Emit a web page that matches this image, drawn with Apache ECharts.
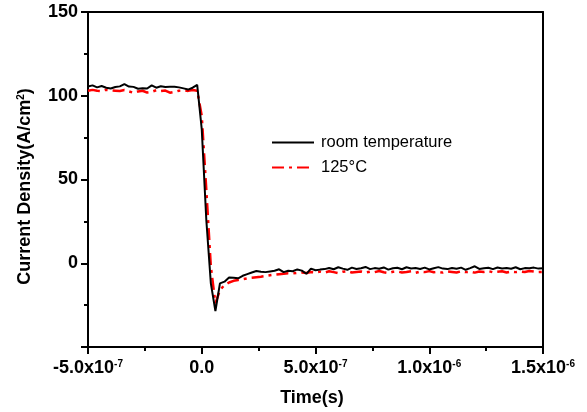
<!DOCTYPE html>
<html>
<head>
<meta charset="utf-8">
<script src="https://cdn.jsdelivr.net/npm/echarts@6/dist/echarts.min.js"></script>
<style>
  html, body { margin: 0; padding: 0; background: #fff; }
  #chart { width: 587px; height: 412px; }
</style>
</head>
<body>
<div id="chart"></div>
<script>
// Sample times in nanoseconds
const timeNs = [
  -500, -480, -460, -440, -420, -400, -380, -360, -340, -320,
  -300, -280, -260, -240, -220, -200, -180, -160, -140, -120,
  -100, -80, -60, -40, -20, 0, 20, 40, 60, 80,
  100, 120, 140, 160, 180, 200, 220, 240, 260, 280,
  300, 320, 340, 360, 380, 400, 420, 440, 460, 480,
  500, 520, 540, 560, 580, 600, 620, 640, 660, 680,
  700, 720, 740, 760, 780, 800, 820, 840, 860, 880,
  900, 920, 940, 960, 980, 1000, 1020, 1040, 1060, 1080,
  1100, 1120, 1140, 1160, 1180, 1200, 1220, 1240, 1260, 1280,
  1300, 1320, 1340, 1360, 1380, 1400, 1420, 1440, 1460, 1480,
  1500
];

// Current density (A/cm^2) at room temperature
const roomTemp = [
  105.5, 106.2, 105.0, 105.8, 104.8, 104.3, 105.2, 105.6, 107.0, 105.5,
  105.3, 104.2, 104.5, 104.3, 106.2, 104.8, 105.7, 105.2, 105.3, 105.4,
  105.0, 104.4, 103.7, 104.8, 106.5, 80.0, 26.0, -12.0, -28.5, -12.0,
  -11.0, -8.5, -8.7, -9.0, -7.5, -6.5, -5.5, -4.6, -5.1, -5.3,
  -4.9, -4.5, -3.6, -5.3, -4.5, -4.8, -3.7, -4.4, -6.3, -3.2,
  -4.2, -3.8, -3.5, -2.8, -3.6, -2.4, -3.2, -3.9, -2.6, -3.4,
  -3.0, -2.2, -3.5, -2.9, -3.3, -2.5, -3.8, -3.0, -2.7, -3.6,
  -2.4, -3.1, -2.9, -3.4, -2.6, -3.7, -3.0, -2.3, -3.2, -3.5,
  -2.8, -3.3, -2.6, -3.9, -2.9, -1.8, -3.4, -3.0, -2.7, -3.5,
  -2.5, -3.1, -2.8, -3.3, -2.4, -3.6, -2.9, -3.0, -2.6, -3.2,
  -3.0
];

// Current density (A/cm^2) at 125 °C
const hot125 = [
  103.0, 103.5, 103.0, 102.8, 103.6, 103.2, 103.0, 102.8, 103.4, 102.6,
  101.8, 102.6, 103.0, 101.9, 102.4, 103.3, 102.8, 103.1, 101.8, 102.3,
  103.0, 103.2, 102.9, 103.4, 103.0, 88.0, 44.0, -2.0, -24.0, -16.0,
  -13.0, -11.5, -10.5, -10.0, -9.5, -9.0, -8.7, -8.3, -8.0, -7.6,
  -7.2, -6.8, -6.5, -6.2, -6.0, -6.1, -5.7, -5.5, -5.8, -5.2,
  -5.5, -5.0, -5.6, -4.8, -5.3, -5.9, -5.1, -4.7, -5.5, -5.2,
  -4.9, -5.6, -5.0, -5.3, -4.6, -5.4, -5.8, -5.1, -4.9, -5.5,
  -5.2, -4.8, -5.7, -5.0, -5.3, -4.7, -5.4, -5.1, -5.6, -4.9,
  -5.2, -5.5, -4.8, -5.3, -5.0, -5.6, -4.9, -5.2, -4.7, -5.4,
  -5.1, -4.8, -5.5, -5.0, -5.3, -4.9, -5.2, -4.6, -5.0, -5.3,
  -5.2
];

const seriesNames = ['room temperature', '125°C'];
const xTickLabels = ['-5.0x10{s|-7}', '0.0', '5.0x10{s|-7}', '1.0x10{s|-6}', '1.5x10{s|-6}'];
const yTickLabels = ['', '0', '50', '100', '150'];

const xMin = -5e-7, xMax = 1.5e-6, xStep = 5e-7;
const yMin = -50, yMax = 150, yStep = 50;

const toPairs = vals => timeNs.map((t, i) => [t * 1e-9, vals[i]]);

const FONT = '"Liberation Sans", Arial, sans-serif';
const boldLabel = {
  fontFamily: FONT, fontWeight: 'bold', fontSize: 18, color: '#000'
};
const supStyle = {
  fontFamily: FONT, fontWeight: 'bold', fontSize: 10, color: '#000',
  verticalAlign: 'top', padding: [0, 0, 8, 0]
};

const chart = echarts.init(document.getElementById('chart'), null, { renderer: 'canvas' });

chart.setOption({
  animation: false,
  backgroundColor: '#fff',
  grid: { left: 88, right: 44, top: 12, bottom: 65, containLabel: false },
  legend: {
    orient: 'vertical',
    left: 271,
    top: 134,
    padding: 0,
    itemWidth: 42,
    itemHeight: 14,
    itemGap: 8,
    data: seriesNames,
    itemStyle: { color: 'rgba(0,0,0,0)', borderWidth: 0 },
    textStyle: {
      fontFamily: FONT, fontSize: 16.5, color: '#000', padding: [0, 0, 0, 2]
    }
  },
  xAxis: [{
    type: 'value',
    min: xMin, max: xMax, interval: xStep,
    name: 'Time(s)', nameLocation: 'middle', nameGap: 42,
    nameTextStyle: Object.assign({}, boldLabel, { padding: [0, 7, 0, 0] }),
    axisLine: { onZero: false, lineStyle: { color: '#000', width: 2 } },
    axisTick: { inside: false, length: 7, lineStyle: { color: '#000', width: 2 } },
    minorTick: { show: true, splitNumber: 2, length: 4, lineStyle: { color: '#000', width: 2 } },
    splitLine: { show: false },
    axisLabel: Object.assign({}, boldLabel, {
      margin: 12,
      formatter: v => xTickLabels[Math.round((v - xMin) / xStep)] || '',
      rich: { s: supStyle }
    })
  }, {
    type: 'value', position: 'top', min: xMin, max: xMax,
    axisLine: { onZero: false, lineStyle: { color: '#000', width: 2 } },
    axisTick: { show: false }, axisLabel: { show: false }, splitLine: { show: false }
  }],
  yAxis: [{
    type: 'value',
    min: yMin, max: yMax, interval: yStep,
    name: 'Current Density(A/cm{s|2})', nameLocation: 'middle', nameGap: 54, nameRotate: 90,
    nameTextStyle: Object.assign({}, boldLabel, { padding: [0, 14, 0, 0], rich: { s: supStyle } }),
    axisLine: { onZero: false, lineStyle: { color: '#000', width: 2 } },
    axisTick: { inside: false, length: 7, lineStyle: { color: '#000', width: 2 } },
    minorTick: { show: true, splitNumber: 2, length: 4, lineStyle: { color: '#000', width: 2 } },
    splitLine: { show: false },
    axisLabel: Object.assign({}, boldLabel, {
      margin: 10,
      formatter: v => yTickLabels[Math.round((v - yMin) / yStep)] || ''
    })
  }, {
    type: 'value', position: 'right', min: yMin, max: yMax,
    axisLine: { show: true, onZero: false, lineStyle: { color: '#000', width: 2 } },
    axisTick: { show: false }, axisLabel: { show: false }, splitLine: { show: false }
  }],
  series: [{
    name: seriesNames[0],
    type: 'line',
    data: toPairs(roomTemp),
    symbol: 'none',
    lineStyle: { color: '#000', width: 2 },
    itemStyle: { color: '#000' },
    z: 3
  }, {
    name: seriesNames[1],
    type: 'line',
    data: toPairs(hot125),
    symbol: 'none',
    lineStyle: { color: '#ff0000', width: 2.5, type: [12, 5, 3, 5] },
    itemStyle: { color: '#ff0000' },
    z: 2
  }]
});
</script>
</body>
</html>
